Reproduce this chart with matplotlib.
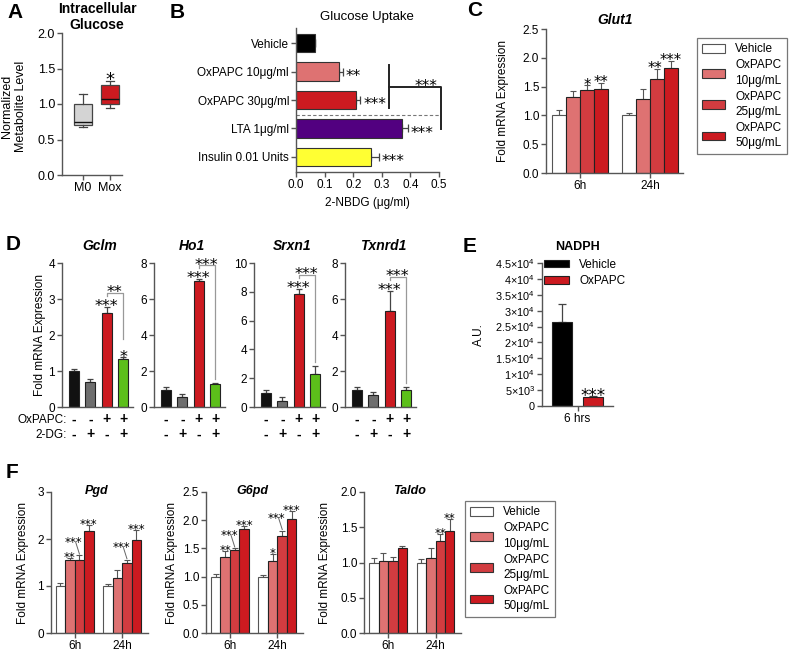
import matplotlib
matplotlib.use('Agg')
import matplotlib.pyplot as plt
from matplotlib.patches import Patch
import numpy as np

plt.rcParams['font.family'] = ['Liberation Sans', 'DejaVu Sans']
plt.rcParams['mathtext.fontset'] = 'custom'
plt.rcParams['mathtext.rm'] = 'Liberation Sans'
plt.rcParams['mathtext.it'] = 'Liberation Sans:italic'

# ---------------- data ----------------
# A: intracellular glucose (box stats)
boxA_labels = ['M0', 'Mox']
boxA_whislo = [0.68, 0.94]
boxA_q1 = [0.70, 1.00]
boxA_med = [0.75, 1.07]
boxA_q3 = [1.00, 1.27]
boxA_whishi = [1.14, 1.32]
boxA_sig = ['', '*']

# B: glucose uptake
uptake_labels = ['Vehicle', 'OxPAPC 10μg/ml', 'OxPAPC 30μg/ml', 'LTA 1μg/ml', 'Insulin 0.01 Units']
uptake_mean = [0.065, 0.150, 0.210, 0.370, 0.262]
uptake_err = [0.0, 0.015, 0.015, 0.020, 0.027]
uptake_sig = ['', '**', '***', '***', '***']
uptake_ticks = [0.0, 0.1, 0.2, 0.3, 0.4, 0.5]

# C: Glut1
times = ['6h', '24h']
treat_labels = ['Vehicle', 'OxPAPC\n10μg/mL', 'OxPAPC\n25μg/mL', 'OxPAPC\n50μg/mL']
glut1_mean = [[1.00, 1.00], [1.32, 1.28], [1.44, 1.64], [1.45, 1.83]]
glut1_err = [[0.10, 0.05], [0.10, 0.17], [0.08, 0.16], [0.11, 0.12]]
glut1_sig = [['', ''], ['', ''], ['*', '**'], ['**', '***']]

# D: antioxidant genes +/- 2-DG
d_genes = ['Gclm', 'Ho1', 'Srxn1', 'Txnrd1']
oxpapc_signs = ['-', '-', '+', '+']
dg_signs = ['-', '+', '-', '+']
d_mean = [[1.00, 0.70, 2.62, 1.32],
          [0.95, 0.55, 7.00, 1.28],
          [0.95, 0.45, 7.85, 2.30],
          [0.95, 0.65, 5.35, 0.92]]
d_err = [[0.05, 0.08, 0.16, 0.06],
         [0.17, 0.15, 0.10, 0.05],
         [0.20, 0.25, 0.35, 0.55],
         [0.17, 0.20, 1.10, 0.20]]
d_ymax = [4, 8, 10, 8]
d_ystep = [1, 2, 2, 2]
d_sig_bar3 = ['***', '***', '***', '***']
d_sig_bar4 = ['*', '', '', '']
d_sig_bracket = ['**', '***', '***', '***']

# E: NADPH
nadph_labels = ['Vehicle', 'OxPAPC']
nadph_mean = [26500, 2800]
nadph_err = [5500, 400]
nadph_sig = ['', '***']
nadph_ticklabels = ['0', r'5$\times$10$^3$', r'1$\times$10$^4$', r'1.5$\times$10$^4$', r'2$\times$10$^4$',
                    r'2.5$\times$10$^4$', r'3$\times$10$^4$', r'3.5$\times$10$^4$', r'4$\times$10$^4$',
                    r'4.5$\times$10$^4$']

# F: PPP genes
f_genes = ['Pgd', 'G6pd', 'Taldo']
f_mean = [
    [[1.00, 1.00], [1.55, 1.16], [1.55, 1.50], [2.18, 1.97]],
    [[1.00, 0.99], [1.35, 1.28], [1.47, 1.72], [1.85, 2.02]],
    [[1.00, 1.00], [1.02, 1.07], [1.02, 1.30], [1.20, 1.44]],
]
f_err = [
    [[0.07, 0.04], [0.05, 0.17], [0.10, 0.05], [0.12, 0.23]],
    [[0.04, 0.04], [0.10, 0.12], [0.03, 0.09], [0.05, 0.14]],
    [[0.06, 0.05], [0.11, 0.14], [0.06, 0.10], [0.03, 0.18]],
]
f_sig = [
    [['', ''], ['**', ''], ['***', '***'], ['***', '***']],
    [['', ''], ['**', '*'], ['***', '***'], ['***', '***']],
    [['', ''], ['', ''], ['', '**'], ['', '**']],
]
f_ymax = [3.0, 2.5, 2.0]
f_ystep = [1.0, 0.5, 0.5]

# ---------------- styling ----------------
treat_colors = ['white', '#de7272', '#d23c40', '#cc1a20']
W, H = 789, 652
fig = plt.figure(figsize=(W / 100, H / 100), dpi=100)
SP = '#555555'


def add_ax(l, t, r, b):
    return fig.add_axes([l / W, 1 - b / H, (r - l) / W, (b - t) / H])


def ftext(x, y, s, **kw):
    kw.setdefault('ha', 'center')
    kw.setdefault('va', 'center')
    return fig.text(x / W, 1 - y / H, s, **kw)


def style(ax, size=8):
    for s in ['top', 'right']:
        ax.spines[s].set_visible(False)
    for s in ['left', 'bottom']:
        ax.spines[s].set_color(SP)
        ax.spines[s].set_linewidth(1.0)
    ax.tick_params(color=SP, labelcolor='black', length=3.5, width=1.0, labelsize=size, pad=1.5)
    ax.set_facecolor('none')


def stars(ax, x, y, s, size=9, dx=0, ha='center', center=False):
    """Place asterisks with their visible bottom (or centre) at data point (x, y)."""
    if not s:
        return
    dy = -0.6 * size if center else -0.40 * size
    ax.annotate(s, (x, y), xytext=(dx, dy), textcoords='offset points',
                ha=ha, va='baseline', fontsize=size, family='DejaVu Sans',
                annotation_clip=False)


def upbars(ax, x, mean, err, color='#333333', cap=2.5, lw=0.9):
    mean = np.asarray(mean, float)
    err = np.asarray(err, float)
    ax.errorbar(x, mean, yerr=[np.zeros_like(err), err], fmt='none', ecolor=color,
                elinewidth=lw, capsize=cap, capthick=lw, zorder=1)


# ---------------- Panel A ----------------
ax = add_ax(62, 33, 122, 175)
style(ax)
stats = []
for i in range(2):
    stats.append(dict(label=boxA_labels[i], whislo=boxA_whislo[i], q1=boxA_q1[i], med=boxA_med[i],
                      q3=boxA_q3[i], whishi=boxA_whishi[i], fliers=[]))
bp = ax.bxp(stats, positions=[1, 2], widths=0.64, capwidths=0.32, patch_artist=True, showfliers=False,
            boxprops=dict(edgecolor='#444', linewidth=0.9),
            medianprops=dict(color='#111', linewidth=1.0),
            whiskerprops=dict(color='#444', linewidth=0.9),
            capprops=dict(color='#444', linewidth=0.9))
for patch, c in zip(bp['boxes'], ['#d4d4d4', '#cc1a20']):
    patch.set_facecolor(c)
ax.set_xlim(0.22, 2.44)
ax.set_ylim(0, 2.0)
ax.set_yticks([0, 0.5, 1.0, 1.5, 2.0])
ax.set_yticklabels(['0.0', '0.5', '1.0', '1.5', '2.0'], fontsize=9)
ax.tick_params(axis='x', labelsize=9)
for i in range(2):
    stars(ax, i + 1, boxA_whishi[i] + 0.05, boxA_sig[i], size=13)
ftext(97, 17, 'Intracellular\nGlucose', fontsize=10, fontweight='bold', linespacing=1.1)
ftext(14, 106, 'Normalized\nMetabolite Level', fontsize=9, rotation=90, linespacing=1.15)
ftext(15, 12, 'A', fontsize=15, fontweight='bold')

# ---------------- Panel B ----------------
ax = add_ax(296, 28, 439, 172)
style(ax, 8.5)
yB = np.arange(len(uptake_labels))
colB = ['#000000', '#de7272', '#cc1a20', '#520080', '#ffff33']
ax.barh(yB, uptake_mean, height=0.65, color=colB, edgecolor='#333', linewidth=0.8, zorder=2)
ax.errorbar(uptake_mean, yB, xerr=[np.zeros(len(yB)), uptake_err], fmt='none', ecolor='#444',
            elinewidth=0.9, capsize=3, capthick=0.9, zorder=1)
for i in range(len(yB)):
    stars(ax, uptake_mean[i] + uptake_err[i], yB[i], uptake_sig[i], size=11, dx=2, ha='left',
          center=True)
ax.set_ylim(4.53, -0.53)
ax.set_xlim(0, 0.5)
ax.set_yticks(yB)
ax.set_yticklabels(uptake_labels, fontsize=8.5)
ax.set_xticks(uptake_ticks)
ax.set_xticklabels(['%.1f' % v for v in uptake_ticks], fontsize=8.5)
ax.plot([0, 0.5], [2.53, 2.53], ls=(0, (3, 2)), color='#777', lw=0.8, clip_on=False)
ax.plot([0.325, 0.325], [0.78, 2.28], color='#222', lw=1.4, clip_on=False)
ax.plot([0.325, 0.506, 0.506], [1.53, 1.53, 3.03], color='#222', lw=1.4, clip_on=False)
stars(ax, 0.455, 1.48, '***', size=11)
ftext(367, 17, 'Glucose Uptake', fontsize=9.5)
ftext(367, 203, '2-NBDG (μg/ml)', fontsize=8.5)
ftext(177, 12, 'B', fontsize=15, fontweight='bold')

# ---------------- Panel C / F helper ----------------
offsets = [-0.3, -0.1, 0.1, 0.3]


def grouped(ax, mean, err, sig, ymax, ystep, fmt, star_size, leader=False):
    style(ax, 8.5)
    for k in range(4):
        xs = np.arange(len(times)) + offsets[k]
        ax.bar(xs, mean[k], width=0.2, color=treat_colors[k],
               edgecolor='#555' if k == 0 else '#222', linewidth=0.8, zorder=2)
        upbars(ax, xs, mean[k], err[k], color='#555', cap=2.2, lw=0.8)
    for g in range(len(times)):
        for k in range(4):
            s = sig[k][g]
            if not s:
                continue
            x = g + offsets[k]
            top = mean[k][g] + err[k][g]
            if leader and k == 2 and s == '***':
                ty = top + 0.1 * ymax
                tx = g - 0.02
                ax.plot([tx + 0.04, x], [ty - 0.005 * ymax, top + 0.01 * ymax], color='#666', lw=0.7,
                        clip_on=False)
                stars(ax, tx, ty, s, size=star_size)
            else:
                nudge = -1.5 if (k == 2 and sig[3][g] and len(sig[3][g]) > 2) else 0
                stars(ax, x, top + 0.012 * ymax, s, size=star_size, dx=nudge)
    ax.set_ylim(0, ymax)
    ticks = np.arange(0, ymax + 1e-9, ystep)
    ax.set_yticks(ticks)
    ax.set_yticklabels([fmt % t for t in ticks])
    ax.set_xticks(range(len(times)))
    ax.set_xticklabels(times)


# ---------------- Panel C ----------------
ax = add_ax(546, 29, 683, 173)
grouped(ax, glut1_mean, glut1_err, glut1_sig, 2.5, 0.5, '%.1f', 10.5)
ax.set_xlim(-0.486, 1.47)
ftext(615, 20, 'Glut1', fontsize=10, fontweight='bold', style='italic')
ftext(503, 101, 'Fold mRNA Expression', fontsize=8.5, rotation=90)
ftext(475, 11, 'C', fontsize=15, fontweight='bold')


def treat_legend(ax, x0, y0):
    handles = [Patch(facecolor=treat_colors[k], edgecolor='#555' if k == 0 else '#333', linewidth=0.8)
               for k in range(4)]
    leg = ax.legend(handles, treat_labels, loc='upper left', bbox_to_anchor=(x0 / W, 1 - y0 / H),
                    bbox_transform=fig.transFigure, frameon=True, fancybox=False, fontsize=8.5,
                    handlelength=1.9, handleheight=0.75, handletextpad=0.9, labelspacing=0.35,
                    borderpad=0.45, borderaxespad=0)
    leg.get_frame().set_edgecolor('#555')
    leg.get_frame().set_linewidth(0.9)
    for t in leg.get_texts():
        t.set_linespacing(1.35)
    return leg


treat_legend(ax, 697, 38)

# ---------------- Panel D ----------------
d_b0 = [74, 166, 266, 357]
dcol = ['#111111', '#6e6e6e', '#cc1a20', '#5cbf1a']
for i, gene in enumerate(d_genes):
    b0 = d_b0[i]
    ax = add_ax(b0 - 12, 263, b0 + 59, 407)
    style(ax, 8.5)
    xs = np.arange(4)
    ymax = d_ymax[i]
    ax.bar(xs, d_mean[i], width=0.62, color=dcol, edgecolor='#222', linewidth=0.8, zorder=2)
    upbars(ax, xs, d_mean[i], d_err[i], color='#444', cap=2.2, lw=0.9)
    tops = [d_mean[i][k] + d_err[i][k] for k in range(4)]
    stars(ax, 2, tops[2] + 0.015 * ymax, d_sig_bar3[i], size=11.5)
    stars(ax, 3, tops[3] + 0.015 * ymax, d_sig_bar4[i], size=11.5)
    yb = tops[2] + 0.10 * ymax
    ydrop = tops[3] + (0.13 * ymax if d_sig_bar4[i] else 0.03 * ymax)
    ax.plot([2, 2, 3, 3], [yb - 0.025 * ymax, yb, yb, ydrop], color='#999', lw=0.9, clip_on=False)
    stars(ax, 2.5, yb + 0.01 * ymax, d_sig_bracket[i], size=11.5)
    ax.set_xlim(-0.736, 3.61)
    ax.set_ylim(0, ymax)
    ax.set_yticks(np.arange(0, ymax + 1, d_ystep[i]))
    ax.set_xticks([])
    tr = ax.get_xaxis_transform()
    for k in range(4):
        ax.text(k, -0.085, oxpapc_signs[k], transform=tr, ha='center', va='center', fontsize=10,
                fontweight='bold')
        ax.text(k, -0.19, dg_signs[k], transform=tr, ha='center', va='center', fontsize=10,
                fontweight='bold')
    ftext(b0 + 26, 246, gene, fontsize=10, fontweight='bold', style='italic')
ftext(67, 420, 'OxPAPC:', fontsize=8.5, ha='right')
ftext(67, 434.5, '2-DG:', fontsize=8.5, ha='right')
ftext(40, 335, 'Fold mRNA Expression', fontsize=8.5, rotation=90)
ftext(13, 244, 'D', fontsize=15, fontweight='bold')

# ---------------- Panel E ----------------
ax = add_ax(542, 263, 613, 406)
style(ax, 7.5)
xe = np.arange(2)
ax.bar(xe, nadph_mean, width=0.62, color=['#000000', '#cc1a20'], edgecolor='#222', linewidth=0.8,
       zorder=2)
upbars(ax, xe, nadph_mean, nadph_err, color='#444', cap=3, lw=0.9)
for k in range(2):
    stars(ax, xe[k], nadph_mean[k] + nadph_err[k] + 400, nadph_sig[k], size=12)
ax.set_xlim(-0.65, 1.65)
ax.set_ylim(0, 45000)
ax.set_yticks(np.arange(0, 45001, 5000))
ax.set_yticklabels(nadph_ticklabels, fontsize=7.8)
ax.set_xticks([0.5])
ax.set_xticklabels(['6 hrs'], fontsize=8.5)
hE = [Patch(facecolor=c, edgecolor='#222', linewidth=0.8) for c in ['#000000', '#cc1a20']]
leg = ax.legend(hE, nadph_labels, loc='upper left', bbox_to_anchor=(544 / W, 1 - 259 / H),
                bbox_transform=fig.transFigure, frameon=False, fontsize=8.5, handlelength=2.1,
                handleheight=0.55, handletextpad=0.9, labelspacing=0.35, borderpad=0, borderaxespad=0)
ftext(577, 247, 'NADPH', fontsize=9, fontweight='bold')
ftext(479, 335, 'A.U.', fontsize=8.5, rotation=90)
ftext(470, 246, 'E', fontsize=15, fontweight='bold')

# ---------------- Panel F ----------------
f_g0 = [74.7, 230, 388]
f_fmt = ['%d', '%.1f', '%.1f']
f_ylab_x = [23, 172, 325]
for j, gene in enumerate(f_genes):
    g0 = f_g0[j]
    ax = add_ax(g0 - 24, 492, g0 + 73, 633)
    grouped(ax, f_mean[j], f_err[j], f_sig[j], f_ymax[j], f_ystep[j], f_fmt[j], 8.5, leader=True)
    ax.set_xlim(-24 / 47.5, 73 / 47.5)
    ax.tick_params(labelsize=8.5)
    ftext(g0 + 22, 491, gene, fontsize=9, fontweight='bold', style='italic')
    ftext(f_ylab_x[j], 563, 'Fold mRNA Expression', fontsize=8.5, rotation=90)
treat_legend(ax, 465, 501)
ftext(12, 472, 'F', fontsize=15, fontweight='bold')

fig.savefig('out.png', dpi=100, facecolor='white')
